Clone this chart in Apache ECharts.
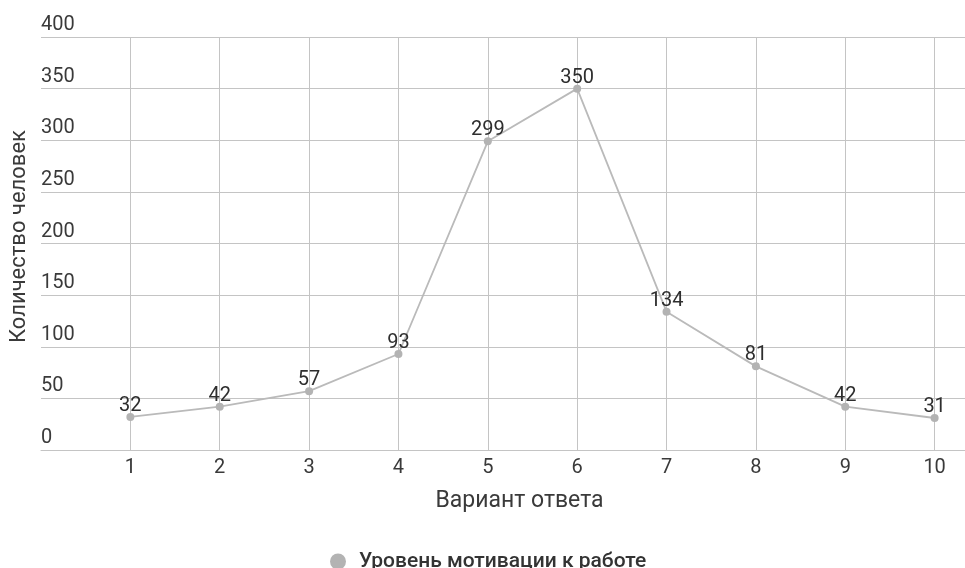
<!DOCTYPE html>
<html>
<head>
<meta charset="utf-8">
<script src="https://cdn.jsdelivr.net/npm/echarts@6/dist/echarts.min.js"></script>
<style>
  html, body { margin: 0; padding: 0; background: #fff; }
  #chart { width: 965px; height: 568px; }
</style>
</head>
<body>
<div id="chart"></div>
<script>
// Answer options on the horizontal axis and respondent counts per option
const categories = [1, 2, 3, 4, 5, 6, 7, 8, 9, 10];
const counts = [32, 42, 57, 93, 299, 350, 134, 81, 42, 31];
const yTicks = [0, 50, 100, 150, 200, 250, 300, 350, 400];

const seriesName = 'Уровень мотивации к работе';
const xTitle = 'Вариант ответа';
const yTitle = 'Количество человек';

const FONT = 'Roboto, "Noto Sans", sans-serif';
const GRID_COLOR = '#c4c4c4';
const TEXT_COLOR = '#3a3a3a';

const chart = echarts.init(document.getElementById('chart'));

const points = categories.map((c, i) => [c, counts[i]]);

chart.setOption({
  animation: false,
  textStyle: { fontFamily: FONT },
  grid: { left: 41, right: 0, top: 37, bottom: 118, outerBoundsMode: 'none', containLabel: false },
  legend: {
    data: [seriesName],
    top: 551,
    left: 330,
    padding: 0,
    icon: 'circle',
    itemWidth: 16,
    itemHeight: 16,
    itemGap: 8,
    textStyle: { fontSize: 21, color: '#333', fontWeight: 500, fontFamily: FONT, padding: [0, 0, 0, 8] }
  },
  xAxis: {
    type: 'value',
    min: 0,
    max: 10.34,
    interval: 1,
    name: xTitle,
    nameLocation: 'middle',
    nameGap: 40,
    nameTextStyle: { fontSize: 23, color: TEXT_COLOR, fontFamily: FONT, padding: [0, 0, 0, 33] },
    axisLine: { show: true, lineStyle: { color: GRID_COLOR, width: 1 } },
    axisTick: {
      show: true,
      inside: true,
      length: 413,
      customValues: categories,
      lineStyle: { color: GRID_COLOR, width: 1 }
    },
    axisLabel: {
      customValues: categories,
      margin: 8,
      fontSize: 20,
      color: TEXT_COLOR,
      fontFamily: FONT
    },
    splitLine: { show: false }
  },
  yAxis: {
    type: 'value',
    min: 0,
    max: 400,
    interval: 50,
    name: yTitle,
    nameLocation: 'middle',
    nameGap: 9,
    nameRotate: 90,
    nameTextStyle: { fontSize: 22, color: TEXT_COLOR, fontFamily: FONT, padding: [0, 0, 0, 14] },
    axisLine: { show: false },
    axisTick: { show: false },
    axisLabel: {
      inside: true,
      margin: 0,
      align: 'left',
      verticalAlign: 'bottom',
      padding: [0, 0, 2, 0],
      fontSize: 20,
      color: TEXT_COLOR,
      fontFamily: FONT,
      formatter: v => (yTicks.includes(v) ? String(v) : '')
    },
    splitLine: { show: true, lineStyle: { color: GRID_COLOR, width: 1 } }
  },
  series: [{
    name: seriesName,
    type: 'line',
    data: points,
    symbol: 'circle',
    symbolSize: 8,
    itemStyle: { color: '#b3b3b3' },
    lineStyle: { color: '#bababa', width: 1.8 },
    label: {
      show: true,
      position: 'top',
      distance: -3,
      fontSize: 20,
      color: '#2e2e2e',
      fontFamily: FONT,
      formatter: p => String(p.value[1])
    }
  }]
});
</script>
</body>
</html>
